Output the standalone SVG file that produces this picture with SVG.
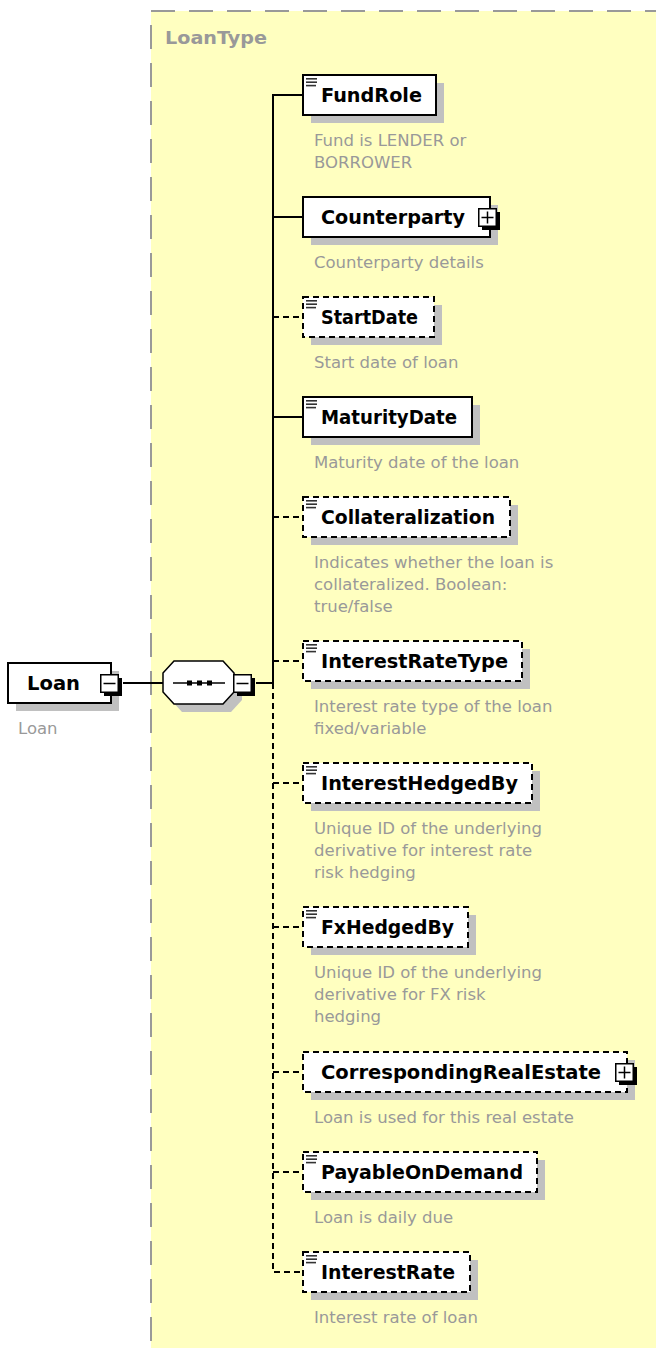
<svg xmlns="http://www.w3.org/2000/svg" xmlns:xlink="http://www.w3.org/1999/xlink" width="656" height="1348" viewBox="0 0 656 1348">
<style>
.bg{fill:#fff}
.type{fill:#ffffc0;stroke:#999;stroke-width:2;stroke-dasharray:24 14}
.typename{font-family:'DejaVu Sans',sans-serif;font-weight:bold;font-size:18.5px;fill:#999}
.box{fill:#fff;stroke:#000;stroke-width:2}
.opt{stroke-dasharray:6 4}
.shd{fill:#c0c0c0}
.nm{font-family:'DejaVu Sans',sans-serif;font-weight:bold;font-size:20px;fill:#000}
.ds{font-family:'DejaVu Sans',sans-serif;font-size:16.5px;fill:#999}
.cn{stroke:#000;stroke-width:2;fill:none}
.cd{stroke-dasharray:6 4}
.doc{fill:#333}
</style>
<defs>
<g id="doc" class="doc">
<rect x="0" y="0" width="11" height="1.6"/>
<rect x="0" y="3.4" width="11" height="1.6"/>
<rect x="0" y="6.8" width="10" height="1.6"/>
</g>
<g id="minus">
<rect x="4" y="4" width="18" height="18" fill="#000"/>
<rect x="0.75" y="0.75" width="17.5" height="17.5" fill="#fff" stroke="#000" stroke-width="1.5"/>
<path d="M3.5 9.5H15.5" stroke="#000" stroke-width="1.5"/>
</g>
<g id="plus">
<rect x="4" y="4" width="18" height="18" fill="#000"/>
<rect x="0.75" y="0.75" width="17.5" height="17.5" fill="#fff" stroke="#000" stroke-width="1.5"/>
<path d="M3.5 9.5H15.5M9.5 3.5V15.5" stroke="#000" stroke-width="1.5"/>
</g>
</defs>
<rect class="bg" x="0" y="0" width="656" height="1348"/>
<g id="LoanType">
<rect class="type" x="151" y="11" width="540" height="1360"/>
<text class="typename" x="165" y="44" textLength="102" lengthAdjust="spacingAndGlyphs">LoanType</text>
</g>
<g id="connectors">
<path class="cn" d="M123 683H163"/>
<path class="cn" d="M256 683H273"/>
<path class="cn" d="M303 95H273V683"/>
<path class="cn" d="M273 217H303"/>
<path class="cn" d="M273 417H303"/>
<path class="cn cd" d="M273 683V1272H303"/>
<path class="cn cd" d="M273 317H303"/>
<path class="cn cd" d="M273 517H303"/>
<path class="cn cd" d="M273 661H303"/>
<path class="cn cd" d="M273 783H303"/>
<path class="cn cd" d="M273 927H303"/>
<path class="cn cd" d="M273 1072H303"/>
<path class="cn cd" d="M273 1172H303"/>
</g>
<g id="Loan">
<rect class="shd" x="16" y="671" width="103" height="40"/>
<rect class="box" x="8" y="663" width="103" height="40"/>
<text class="nm" x="27" y="690" textLength="53" lengthAdjust="spacingAndGlyphs">Loan</text>
<use href="#minus" x="100" y="674"/>
<text class="ds" x="18" y="734">Loan</text>
</g>
<g id="sequence">
<polygon class="shd" points="171,681 182,669 231,669 242,681 242,700 231,712 182,712 171,700"/>
<polygon points="163,673 174,661 223,661 234,673 234,692 223,704 174,704 163,692" fill="#fff" stroke="#000" stroke-width="1.5"/>
<path d="M173 683H225" stroke="#000" stroke-width="1.5"/>
<rect x="187" y="680.5" width="5" height="5" fill="#000"/>
<rect x="197" y="680.5" width="5" height="5" fill="#000"/>
<rect x="207" y="680.5" width="5" height="5" fill="#000"/>
<use href="#minus" x="233" y="674"/>
</g>
<g id="FundRole">
<rect class="shd" x="311" y="83" width="133" height="40"/>
<rect class="box" x="303" y="75" width="133" height="40"/>
<use href="#doc" x="306" y="78"/>
<text class="nm" x="321" y="102" textLength="101" lengthAdjust="spacingAndGlyphs">FundRole</text>
<text class="ds" x="314" y="146">Fund is LENDER or</text>
<text class="ds" x="314" y="168">BORROWER</text>
</g>
<g id="Counterparty">
<rect class="shd" x="311" y="205" width="187" height="40"/>
<rect class="box" x="303" y="197" width="187" height="40"/>
<text class="nm" x="321" y="224" textLength="144" lengthAdjust="spacingAndGlyphs">Counterparty</text>
<use href="#plus" x="478" y="208"/>
<text class="ds" x="314" y="268">Counterparty details</text>
</g>
<g id="StartDate">
<rect class="shd" x="311" y="305" width="131" height="40"/>
<rect class="box opt" x="303" y="297" width="131" height="40"/>
<use href="#doc" x="306" y="300"/>
<text class="nm" x="321" y="324" textLength="97" lengthAdjust="spacingAndGlyphs">StartDate</text>
<text class="ds" x="314" y="368">Start date of loan</text>
</g>
<g id="MaturityDate">
<rect class="shd" x="311" y="405" width="169" height="40"/>
<rect class="box" x="303" y="397" width="169" height="40"/>
<use href="#doc" x="306" y="400"/>
<text class="nm" x="321" y="424" textLength="136" lengthAdjust="spacingAndGlyphs">MaturityDate</text>
<text class="ds" x="314" y="468">Maturity date of the loan</text>
</g>
<g id="Collateralization">
<rect class="shd" x="311" y="505" width="207" height="40"/>
<rect class="box opt" x="303" y="497" width="207" height="40"/>
<use href="#doc" x="306" y="500"/>
<text class="nm" x="321" y="524" textLength="174" lengthAdjust="spacingAndGlyphs">Collateralization</text>
<text class="ds" x="314" y="568">Indicates whether the loan is</text>
<text class="ds" x="314" y="590">collateralized. Boolean:</text>
<text class="ds" x="314" y="612">true/false</text>
</g>
<g id="InterestRateType">
<rect class="shd" x="311" y="649" width="219" height="40"/>
<rect class="box opt" x="303" y="641" width="219" height="40"/>
<use href="#doc" x="306" y="644"/>
<text class="nm" x="321" y="668" textLength="187" lengthAdjust="spacingAndGlyphs">InterestRateType</text>
<text class="ds" x="314" y="712">Interest rate type of the loan</text>
<text class="ds" x="314" y="734">fixed/variable</text>
</g>
<g id="InterestHedgedBy">
<rect class="shd" x="311" y="771" width="229" height="40"/>
<rect class="box opt" x="303" y="763" width="229" height="40"/>
<use href="#doc" x="306" y="766"/>
<text class="nm" x="321" y="790" textLength="197" lengthAdjust="spacingAndGlyphs">InterestHedgedBy</text>
<text class="ds" x="314" y="834">Unique ID of the underlying</text>
<text class="ds" x="314" y="856">derivative for interest rate</text>
<text class="ds" x="314" y="878">risk hedging</text>
</g>
<g id="FxHedgedBy">
<rect class="shd" x="311" y="915" width="165" height="40"/>
<rect class="box opt" x="303" y="907" width="165" height="40"/>
<use href="#doc" x="306" y="910"/>
<text class="nm" x="321" y="934" textLength="133" lengthAdjust="spacingAndGlyphs">FxHedgedBy</text>
<text class="ds" x="314" y="978">Unique ID of the underlying</text>
<text class="ds" x="314" y="1000">derivative for FX risk</text>
<text class="ds" x="314" y="1022">hedging</text>
</g>
<g id="CorrespondingRealEstate">
<rect class="shd" x="311" y="1060" width="324" height="40"/>
<rect class="box opt" x="303" y="1052" width="324" height="40"/>
<text class="nm" x="321" y="1079" textLength="280" lengthAdjust="spacingAndGlyphs">CorrespondingRealEstate</text>
<use href="#plus" x="615" y="1063"/>
<text class="ds" x="314" y="1123">Loan is used for this real estate</text>
</g>
<g id="PayableOnDemand">
<rect class="shd" x="311" y="1160" width="234" height="40"/>
<rect class="box opt" x="303" y="1152" width="234" height="40"/>
<use href="#doc" x="306" y="1155"/>
<text class="nm" x="321" y="1179" textLength="202" lengthAdjust="spacingAndGlyphs">PayableOnDemand</text>
<text class="ds" x="314" y="1223">Loan is daily due</text>
</g>
<g id="InterestRate">
<rect class="shd" x="311" y="1260" width="167" height="40"/>
<rect class="box opt" x="303" y="1252" width="167" height="40"/>
<use href="#doc" x="306" y="1255"/>
<text class="nm" x="321" y="1279" textLength="134" lengthAdjust="spacingAndGlyphs">InterestRate</text>
<text class="ds" x="314" y="1323">Interest rate of loan</text>
</g>
</svg>
